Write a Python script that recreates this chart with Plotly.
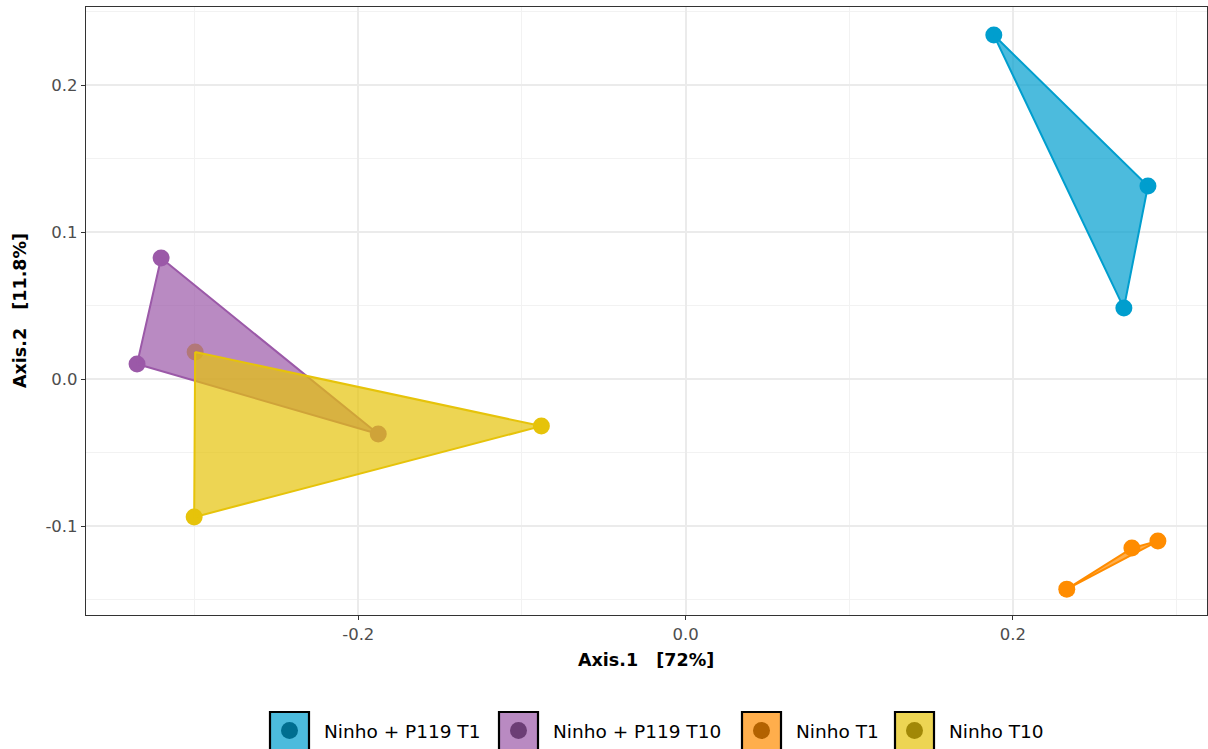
import plotly.graph_objects as go

# PCoA sample coordinates per treatment group (Axis.1, Axis.2)
groups = ["Ninho + P119 T1", "Ninho + P119 T10", "Ninho T1", "Ninho T10"]
axis1_p119_t1 = [0.1884, 0.2826, 0.2679]
axis2_p119_t1 = [0.2340, 0.1313, 0.0483]
axis1_p119_t10 = [-0.3205, -0.1878, -0.3352]
axis2_p119_t10 = [0.0823, -0.0374, 0.0102]
axis1_t1 = [0.2330, 0.2728, 0.2887]
axis2_t1 = [-0.1429, -0.1150, -0.1102]
axis1_t10 = [-0.2997, -0.0881, -0.3003]
axis2_t10 = [0.0184, -0.0320, -0.0939]

x_tickvals = [-0.2, 0.0, 0.2]
x_ticktext = ["-0.2", "0.0", "0.2"]
y_tickvals = [-0.1, 0.0, 0.1, 0.2]
y_ticktext = ["-0.1", "0.0", "0.1", "0.2"]

colors = ["#009ECE", "#9B59A8", "#FF8C00", "#E6C30A"]
key_dots = ["#006E90", "#6C3E75", "#B36200", "#A18807"]

xs = [axis1_p119_t1, axis1_p119_t10, axis1_t1, axis1_t10]
ys = [axis2_p119_t1, axis2_p119_t10, axis2_t1, axis2_t10]


def rgba(hex_color, a):
    h = hex_color.lstrip("#")
    r, g, b = int(h[0:2], 16), int(h[2:4], 16), int(h[4:6], 16)
    return f"rgba({r},{g},{b},{a})"


fig = go.Figure()

# points first, hulls drawn over them with translucent fill
for name, x, y, c in zip(groups, xs, ys, colors):
    fig.add_trace(go.Scatter(x=x, y=y, mode="markers", name=name, showlegend=False,
                             marker=dict(size=17, color=c, line=dict(width=0))))
for name, x, y, c in zip(groups, xs, ys, colors):
    fig.add_trace(go.Scatter(x=x + [x[0]], y=y + [y[0]], mode="lines", fill="toself",
                             fillcolor=rgba(c, 0.7), line=dict(color=c, width=2),
                             name=name, showlegend=False, hoverinfo="skip"))

W, H = 1208, 749
L, R, T, B = 86, 1207, 7, 615


def px_x(p):
    return (p - L) / (R - L)


def px_y(p):
    return (B - p) / (B - T)


# legend along the bottom: boxed key with dot, then label
key_left = [270, 499, 742, 895]
shapes = []
annotations = []
for i, name in enumerate(groups):
    x0 = key_left[i]
    shapes.append(dict(type="rect", xref="paper", yref="paper",
                       x0=px_x(x0), x1=px_x(x0 + 39), y0=px_y(712), y1=px_y(752),
                       fillcolor=rgba(colors[i], 0.7), line=dict(color="black", width=2.2)))
    shapes.append(dict(type="circle", xref="paper", yref="paper",
                       x0=px_x(x0 + 11), x1=px_x(x0 + 28), y0=px_y(722), y1=px_y(739),
                       fillcolor=key_dots[i], line=dict(width=0)))
    annotations.append(dict(text=name, xref="paper", yref="paper", x=px_x(x0 + 52), y=px_y(731),
                            xanchor="left", yanchor="middle", showarrow=False,
                            font=dict(size=18.5, color="black")))

annotations.append(dict(text="<b>Axis.1   [72%]</b>", xref="paper", yref="paper",
                        x=px_x(646), y=px_y(660), xanchor="center", yanchor="middle",
                        showarrow=False, font=dict(size=17.5, color="black")))
annotations.append(dict(text="<b>Axis.2   [11.8%]</b>", xref="paper", yref="paper",
                        x=px_x(20), y=px_y(311), xanchor="center", yanchor="middle",
                        textangle=-90, showarrow=False, font=dict(size=17.5, color="black")))

axis_common = dict(showline=True, mirror=True, linecolor="#333333", linewidth=1.2,
                   ticks="outside", ticklen=4, tickcolor="#333333", tickwidth=1.2,
                   showgrid=True, gridcolor="#EBEBEB", gridwidth=1.6, zeroline=False,
                   tickfont=dict(size=16.5, color="#4D4D4D"), tickmode="array")

fig.update_layout(
    width=W, height=H,
    margin=dict(l=L, r=W - R, t=T, b=H - B),
    paper_bgcolor="white", plot_bgcolor="white",
    font=dict(family="DejaVu Sans"),
    shapes=shapes, annotations=annotations,
    xaxis=dict(range=[-0.3664, 0.3187], tickvals=x_tickvals, ticktext=x_ticktext,
               minor=dict(showgrid=True, gridcolor="#F2F2F2", gridwidth=1, dtick=0.1, tick0=0.1),
               **axis_common),
    yaxis=dict(range=[-0.1605, 0.2531], tickvals=y_tickvals, ticktext=y_ticktext,
               minor=dict(showgrid=True, gridcolor="#F2F2F2", gridwidth=1, dtick=0.05, tick0=0.05),
               **axis_common),
)

fig.write_html("out.html")
